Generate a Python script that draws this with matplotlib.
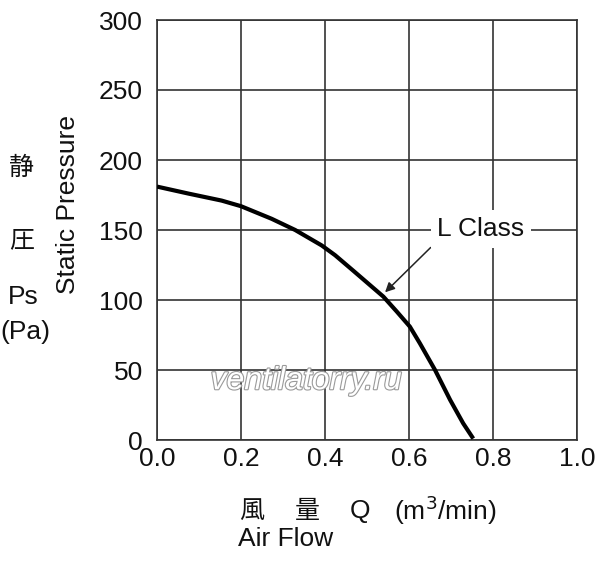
import matplotlib
matplotlib.use('Agg')
import matplotlib.pyplot as plt
import matplotlib.patheffects as pe
import numpy as np

plt.rcParams['font.family'] = ['Liberation Sans', 'Noto Sans CJK JP', 'DejaVu Sans']

#-------data-------
flow = [0.0, 0.075, 0.154, 0.2, 0.273, 0.329, 0.392, 0.424, 0.467, 0.539,
        0.571, 0.602, 0.626, 0.662, 0.698, 0.729, 0.753]
pressure = [181, 176, 171, 167, 158, 150, 139, 132, 121, 102.4,
            91.7, 81, 69, 50, 28.6, 11.9, 1]
xticks = [0.0, 0.2, 0.4, 0.6, 0.8, 1.0]
yticks = [0, 50, 100, 150, 200, 250, 300]

W, H = 600, 562
fig = plt.figure(figsize=(W/100, H/100), dpi=100)
ax = fig.add_axes([157/W, 1-440/H, 420/W, 420/H])

ax.plot(flow, pressure, color='black', lw=3, solid_capstyle='butt',
        solid_joinstyle='round', zorder=3)
ax.set_xlim(0, 1.0)
ax.set_ylim(0, 300)
ax.set_xticks(xticks)
ax.set_xticklabels(['%.1f' % v for v in xticks])
ax.set_yticks(yticks)
ax.tick_params(length=0, labelsize=19, colors='#111111')
ax.tick_params(axis='y', pad=10)
ax.tick_params(axis='x', pad=5)
ax.grid(True, color='#333333', lw=1.2)
for s in ax.spines.values():
    s.set_color('#333333')
    s.set_linewidth(1.2)

#label
ax.annotate('L Class', xy=(0.543, 105.5), xytext=(0.771, 150.7),
            fontsize=19, ha='center', va='center', color='#111111',
            bbox=dict(boxstyle='square,pad=0.25', fc='white', ec='none'),
            arrowprops=dict(arrowstyle='-|>', color='#222222', lw=1.1,
                            shrinkA=0, shrinkB=0, mutation_scale=14,
                            relpos=(0.0, 0.0)),
            zorder=5)

#watermark
ax.text(0.355, 42, 'ventilatorry.ru', fontsize=23, style='italic',
        ha='center', va='center', color='white', zorder=4,
        path_effects=[pe.withStroke(linewidth=1.6, foreground='#9a9a9a')])

def ft(x, y, s, **kw):
    fig.text(x/W, 1-y/H, s, ha='center', va='center', color='#111111', **kw)

ft(68, 205, 'Static Pressure', fontsize=19, rotation=90)
ft(22, 168, '静', fontsize=18)
ft(22, 240, '圧', fontsize=18)
ft(23, 297, 'Ps', fontsize=19)
ft(25, 332, '(Pa)', fontsize=19)

ft(252, 511, '風', fontsize=18)
ft(307, 511, '量', fontsize=18)
ft(360, 511, 'Q', fontsize=19)
ft(445, 510, '(m$^3$/min)', fontsize=19)
ft(286, 539, 'Air Flow', fontsize=19)

fig.savefig('out.png', dpi=100)
